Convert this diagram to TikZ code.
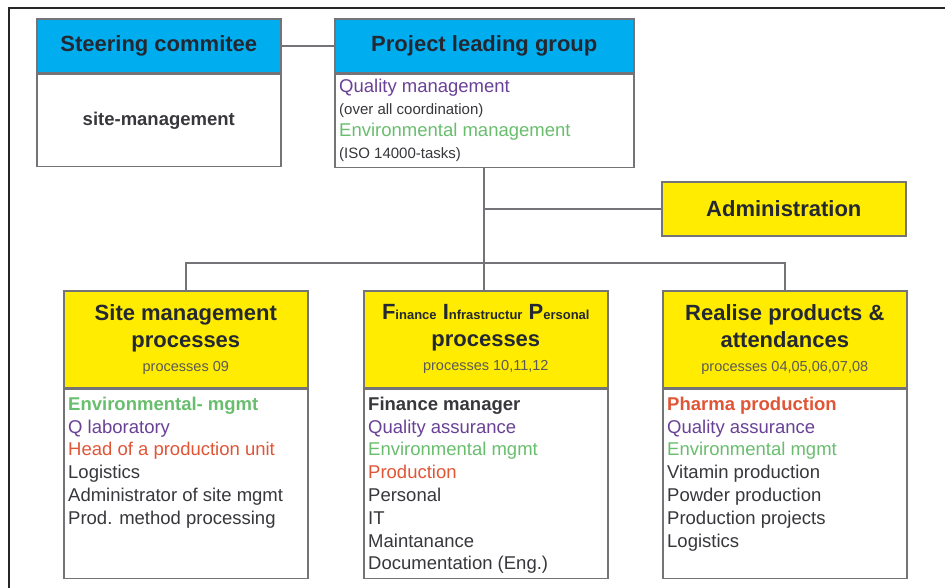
\documentclass[tikz,border=0pt]{standalone}
\usepackage{fontspec}
\setmainfont{Liberation Sans}
\definecolor{hblue}{RGB}{0,174,239}
\definecolor{hyellow}{RGB}{255,236,0}
\definecolor{boxgray}{RGB}{115,115,120}
\definecolor{lpurple}{RGB}{105,65,150}
\definecolor{lgreen}{RGB}{105,190,110}
\definecolor{lred}{RGB}{225,85,55}
\definecolor{ltext}{RGB}{55,55,60}
\definecolor{hdtext}{RGB}{35,40,50}
\definecolor{subtext}{RGB}{90,90,90}
\newcommand\hdf{\color{hdtext}\bfseries\fontsize{22}{27}\selectfont}
\newcommand\smf{\mdseries\fontsize{14.5}{27}\selectfont\color{subtext}}
\newcommand\mysmall{\fontsize{13}{27}\selectfont}
\newcommand\smalline{\fontsize{15}{22}\selectfont}
\newcommand\bigline{\fontsize{18.5}{22}\selectfont}
\tikzset{
  box/.style={draw=boxgray, line width=1.6pt, inner sep=0pt, anchor=north west},
  bluehdr/.style={box, fill=hblue, minimum width=244pt, minimum height=54pt, font=\bfseries\fontsize{22}{26}\selectfont, text=hdtext},
  yelhdr/.style={box, fill=hyellow, minimum width=244pt, minimum height=97pt, align=center, text=hdtext, font=\bfseries\fontsize{22}{27}\selectfont},
  bodyb/.style={box, fill=white, minimum width=244pt},
  list/.style={anchor=north west, inner sep=0pt, align=left, font=\fontsize{18.5}{22.8}\selectfont, text=ltext},
  conn/.style={draw=boxgray, line width=1.8pt}
}
\begin{document}
\begin{tikzpicture}[x=1pt,y=-1pt]
\useasboundingbox (0,0) rectangle (945,588);
\fill[white] (0,0) rectangle (945,588);
\draw[line width=2pt, draw=black!85] (9,588) -- (9,8) -- (945,8);

% Steering committee
\node[bluehdr] (sc) at (36,18) {Steering commitee};
\node[bodyb, minimum height=92pt, font=\bfseries\fontsize{18.5}{22}\selectfont, text=ltext] (scb) at (sc.south west) {site-management};

% Project leading group
\node[bluehdr, minimum width=299pt] (plg) at (334,18) {Project leading group};
\node[bodyb, minimum width=299pt, minimum height=93pt] (plgb) at (plg.south west) {};
\node[list, font=\fontsize{18.5}{22}\selectfont] (plgl) at ([xshift=5pt,yshift=-5pt]plgb.north west)
  {\textcolor{lpurple}{Quality management}\\
   \smalline (over all coordination)\\
   \bigline\textcolor{lgreen}{Environmental management}\\
   \smalline (ISO 14000-tasks)};

% Administration
\node[box, fill=hyellow, minimum width=244pt, minimum height=54pt, font=\bfseries\fontsize{22}{26}\selectfont, text=hdtext] (adm) at (661,181) {Administration};

% Bottom boxes
\node[yelhdr] (h1) at (63,290) {\hdf Site management\\ \hdf processes\\[-3pt] \smf processes 09};
\node[bodyb, minimum height=189pt] (b1) at (h1.south west) {};
\node[list] (l1) at ([xshift=5pt,yshift=-8pt]b1.north west)
  {\textcolor{lgreen}{\bfseries Environmental- mgmt}\\
   \textcolor{lpurple}{Q laboratory}\\
   \textcolor{lred}{Head of a production unit}\\
   Logistics\\
   Administrator of site mgmt\\
   Prod. method processing};

\node[yelhdr] (h2) at (363,290) {\hdf F{\mysmall inance} I{\mysmall nfrastructur} P{\mysmall ersonal}\\ \hdf processes\\[-3pt] \smf processes 10,11,12};
\node[bodyb, minimum height=189pt] (b2) at (h2.south west) {};
\node[list] (l2) at ([xshift=5pt,yshift=-8pt]b2.north west)
  {\textbf{Finance manager}\\
   \textcolor{lpurple}{Quality assurance}\\
   \textcolor{lgreen}{Environmental mgmt}\\
   \textcolor{lred}{Production}\\
   Personal\\
   IT\\
   Maintanance\\
   Documentation (Eng.)};

\node[yelhdr] (h3) at (662,290) {\hdf Realise products \&\\ \hdf attendances\\[-3pt] \smf processes 04,05,06,07,08};
\node[bodyb, minimum height=189pt] (b3) at (h3.south west) {};
\node[list] (l3) at ([xshift=5pt,yshift=-8pt]b3.north west)
  {\textcolor{lred}{\bfseries Pharma production}\\
   \textcolor{lpurple}{Quality assurance}\\
   \textcolor{lgreen}{Environmental mgmt}\\
   Vitamin production\\
   Powder production\\
   Production projects\\
   Logistics};

% Connectors
\draw[conn] (sc.east) -- (plg.west);
\draw[conn] (plgb.south) -- (plgb.south |- h2.north);
\draw[conn] (adm.west) -- (adm.west -| plgb.south);
\draw[conn] (h1.north) -- ++(0,-27) -| (h3.north);
\end{tikzpicture}
\end{document}
